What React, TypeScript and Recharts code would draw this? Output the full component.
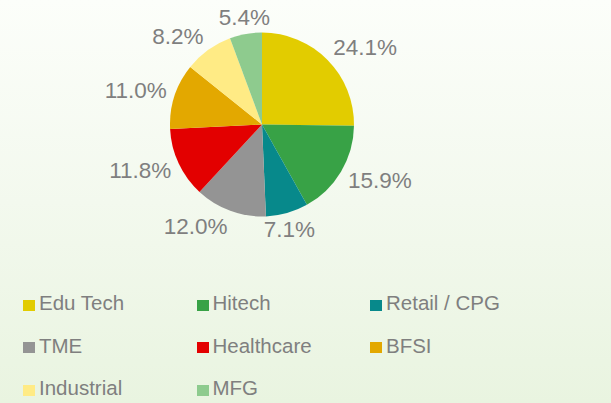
import { Legend, Pie, PieChart } from "recharts";

const sectors = [
  "Edu Tech",
  "Hitech",
  "Retail / CPG",
  "TME",
  "Healthcare",
  "BFSI",
  "Industrial",
  "MFG",
];
const shares = [24.1, 15.9, 7.1, 12.0, 11.8, 11.0, 8.2, 5.4];
const colors = [
  "#e2cc00",
  "#38a246",
  "#07898b",
  "#949494",
  "#e30000",
  "#e3a800",
  "#ffeb85",
  "#8ecb8e",
];

const data = sectors.map((name, i) => ({
  name,
  value: shares[i],
  fill: colors[i],
}));

const FONT = '"Liberation Sans", Arial, sans-serif';
const TEXT = "#7f7f7f";
const RADIAN = Math.PI / 180;

function renderLabel(props: any) {
  const { cx, cy, midAngle, outerRadius, value } = props;
  const c = Math.cos(-midAngle * RADIAN);
  const s = Math.sin(-midAngle * RADIAN);
  const r = outerRadius + 8;
  const x = cx + r * c;
  const y = cy + r * s + s * 9;
  const anchor = Math.abs(c) < 0.3 ? "middle" : c > 0 ? "start" : "end";
  return (
    <text
      x={x}
      y={y}
      fill={TEXT}
      fontSize={22.5}
      fontFamily={FONT}
      textAnchor={anchor}
      dominantBaseline="central"
    >
      {`${Number(value).toFixed(1)}%`}
    </text>
  );
}

// legend keeps the series order instead of the alphabetical one
function renderLegend() {
  return (
    <div
      style={{
        display: "grid",
        gridTemplateColumns: "173.5px 173.5px 173.5px",
        paddingLeft: 23,
        fontFamily: FONT,
        fontSize: 20.5,
        color: TEXT,
      }}
    >
      {sectors.map((name, i) => (
        <div
          key={name}
          style={{ display: "flex", alignItems: "center", height: 42.5 }}
        >
          <span
            style={{
              width: 12,
              height: 11,
              background: colors[i],
              marginRight: 4,
              position: "relative",
              top: 2,
            }}
          />
          <span>{name}</span>
        </div>
      ))}
    </div>
  );
}

export default function App() {
  return (
    <div
      style={{
        position: "absolute",
        left: 0,
        top: 0,
        width: 611,
        height: 403,
        background: "linear-gradient(to bottom, #fcfefa 0%, #f3f9ee 50%, #e9f4e0 100%)",
      }}
    >
      <PieChart
        width={611}
        height={403}
        margin={{ top: 0, right: 0, bottom: 0, left: 0 }}
      >
        <Pie
          data={data}
          dataKey="value"
          nameKey="name"
          cx={262}
          cy={124.5}
          outerRadius={92}
          startAngle={90}
          endAngle={-270}
          stroke="none"
          label={renderLabel}
          labelLine={false}
          isAnimationActive={false}
        />
        <Legend
          content={renderLegend}
          wrapperStyle={{ position: "absolute", left: 0, top: 282, width: 611 }}
        />
      </PieChart>
    </div>
  );
}
